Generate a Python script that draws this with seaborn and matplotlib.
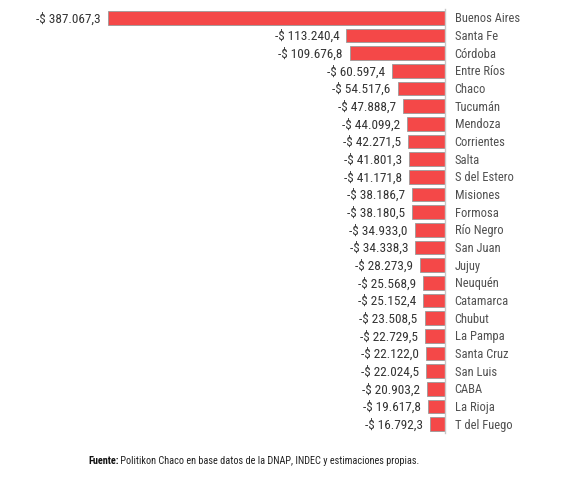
import matplotlib
matplotlib.use("Agg")
import matplotlib.pyplot as plt
import seaborn as sns
import pandas as pd
from matplotlib import font_manager
from matplotlib.font_manager import FontProperties

provinces = ["Buenos Aires", "Santa Fe", "Córdoba", "Entre Ríos", "Chaco", "Tucumán",
             "Mendoza", "Corrientes", "Salta", "S del Estero", "Misiones", "Formosa",
             "Río Negro", "San Juan", "Jujuy", "Neuquén", "Catamarca", "Chubut",
             "La Pampa", "Santa Cruz", "San Luis", "CABA", "La Rioja", "T del Fuego"]
values = [-387067.3, -113240.4, -109676.8, -60597.4, -54517.6, -47888.7,
          -44099.2, -42271.5, -41801.3, -41171.8, -38186.7, -38180.5,
          -34933.0, -34338.3, -28273.9, -25568.9, -25152.4, -23508.5,
          -22729.5, -22122.0, -22024.5, -20903.2, -19617.8, -16792.3]
footer_bold = "Fuente:"
footer_text = " Politikon Chaco en base datos de la DNAP, INDEC y estimaciones propias."

sns.set_theme(style="white")


def pick_font(bold=False):
    fl = font_manager.fontManager.ttflist
    def ok(f):
        w = f.weight if isinstance(f.weight, int) else (700 if "bold" in str(f.weight) else 400)
        return (w >= 600) == bold and f.style == "normal"
    prefs = [
        lambda f: f.name == "Liberation Sans Narrow",
        lambda f: "Roboto Condensed" in f.name,
        lambda f: "Open Sans Condensed" in f.name,
        lambda f: f.name == "Roboto" and "ondensed" in str(f.stretch),
        lambda f: f.name == "DejaVu Sans" and "ondensed" in str(f.stretch),
        lambda f: ("Narrow" in f.name or "Condensed" in f.name or "ondensed" in str(f.stretch)),
    ]
    for p in prefs:
        for f in fl:
            if p(f) and ok(f):
                return FontProperties(fname=f.fname)
    return FontProperties(family="DejaVu Sans", weight="bold" if bold else "normal")


fp = pick_font(False)
fpb = pick_font(True)


def fmt(v):
    s = f"{abs(v):,.1f}".replace(",", "X").replace(".", ",").replace("X", ".")
    return f"-$ {s}"

df = pd.DataFrame({"prov": provinces, "val": values})

W, H = 586, 481
fig = plt.figure(figsize=(W / 100, H / 100), dpi=100)
x0, x1 = 30, 445
y_top, y_bot = 10, 434
ax = fig.add_axes([x0 / W, 1 - y_bot / H, (x1 - x0) / W, (y_bot - y_top) / H])

sns.barplot(data=df, x="val", y="prov", orient="h", color="#F44848",
            saturation=1, width=0.76, edgecolor="#9a9a9a", linewidth=0.6, ax=ax)

scale = 0.8707  # px per 1000
ax.set_xlim(-(x1 - x0) / scale * 1000, 0)
ax.set_ylim(len(provinces) - 0.5, -0.5)

for i, v in enumerate(values):
    ax.annotate(fmt(v), xy=(v, i), xytext=(-5, 0), textcoords="offset points",
                ha="right", va="center", fontproperties=fp, fontsize=9.5,
                color="#333333")

ax.yaxis.tick_right()
ax.tick_params(axis="y", length=0, pad=7)
for lab in ax.get_yticklabels():
    lab.set_fontproperties(fp)
    lab.set_fontsize(9)
    lab.set_color("#505050")
    lab.set_va("center")
ax.set_xticks([])
ax.set_xlabel("")
ax.set_ylabel("")
for s in ["top", "left", "bottom"]:
    ax.spines[s].set_visible(False)
ax.spines["right"].set_color("#c8c8c8")
ax.spines["right"].set_linewidth(1)

yf = 1 - 461 / H
t = fig.text(88 / W, yf, footer_bold, fontproperties=fpb, fontsize=7.4,
             ha="left", va="center", color="#111111")
fig.canvas.draw()
bb = t.get_window_extent()
fig.text(bb.x1 / W, yf, footer_text, fontproperties=fp, fontsize=7.4,
         ha="left", va="center", color="#222222")

fig.savefig("out.png", dpi=100)
